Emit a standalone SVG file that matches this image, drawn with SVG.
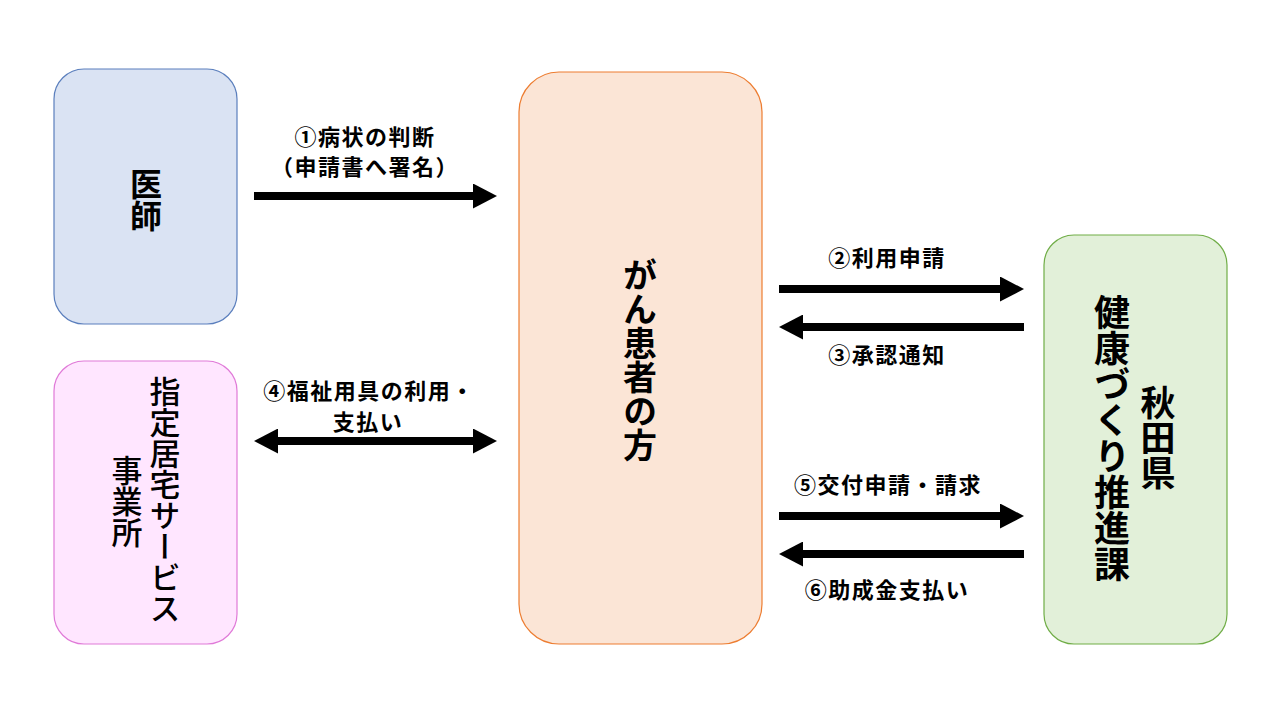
<svg xmlns="http://www.w3.org/2000/svg" width="1280" height="720" viewBox="0 0 1280 720">
<style>
.v{font-family:"Noto Sans CJK JP","Noto Sans CJK SC",sans-serif;writing-mode:vertical-rl;text-anchor:middle;fill:#000}
.lb{font-family:"Noto Sans CJK JP","Noto Sans CJK SC",sans-serif;font-size:22px;font-weight:bold;letter-spacing:1.5px;text-anchor:middle;fill:#000}
.shaft{stroke:#000;stroke-width:8;fill:none}
</style>
<defs>
<marker id="ah" viewBox="0 0 24 25" refX="0" refY="12.5" markerWidth="24" markerHeight="25" markerUnits="userSpaceOnUse" orient="auto-start-reverse">
<path d="M0,0 L24,12.5 L0,25 Z" fill="#000"/>
</marker>
</defs>
<rect width="1280" height="720" fill="#fff"/>
<g id="doctor">
<rect x="54" y="69" width="183" height="255" rx="30" fill="#dae3f3" stroke="#5b7fbd" stroke-width="1.2"/>
<text class="v" x="146" y="200" font-size="32" font-weight="bold">医師</text>
</g>
<g id="office">
<rect x="54" y="361" width="183" height="283" rx="30" fill="#ffe6ff" stroke="#e07ad8" stroke-width="1.2"/>
<text class="v" x="165" y="500" font-size="31" font-weight="500">指定居宅サービス</text>
<text class="v" x="127" y="501" font-size="31" font-weight="500">事業所</text>
</g>
<g id="patient">
<rect x="519" y="72" width="243" height="572" rx="40" fill="#fbe5d6" stroke="#ed7d31" stroke-width="1.2"/>
<text class="v" x="640" y="360" font-size="34" font-weight="bold">がん患者の方</text>
</g>
<g id="pref">
<rect x="1044" y="235" width="183" height="409" rx="30" fill="#e2f0d9" stroke="#70ad47" stroke-width="1.2"/>
<text class="v" x="1158" y="438" font-size="35" font-weight="bold">秋田県</text>
<text class="v" x="1112" y="438" font-size="36" font-weight="bold">健康づくり推進課</text>
</g>
<g id="connectors">
<line class="shaft" x1="254" y1="196" x2="473" y2="196" marker-end="url(#ah)"/>
<line class="shaft" x1="278" y1="441" x2="473" y2="441" marker-start="url(#ah)" marker-end="url(#ah)"/>
<line class="shaft" x1="779" y1="289" x2="1000" y2="289" marker-end="url(#ah)"/>
<line class="shaft" x1="1024" y1="327" x2="803" y2="327" marker-end="url(#ah)"/>
<line class="shaft" x1="779" y1="516" x2="1000" y2="516" marker-end="url(#ah)"/>
<line class="shaft" x1="1024" y1="554" x2="803" y2="554" marker-end="url(#ah)"/>
</g>
<g id="labels">
<text class="lb" x="365" y="145">①病状の判断</text>
<text class="lb" x="365" y="175">（申請書へ署名）</text>
<text class="lb" x="369" y="399">④福祉用具の利用・</text>
<text class="lb" x="368" y="430">支払い</text>
<text class="lb" x="887" y="266">②利用申請</text>
<text class="lb" x="887" y="363">③承認通知</text>
<text class="lb" x="888" y="493">⑤交付申請・請求</text>
<text class="lb" x="887" y="598">⑥助成金支払い</text>
</g>
</svg>
